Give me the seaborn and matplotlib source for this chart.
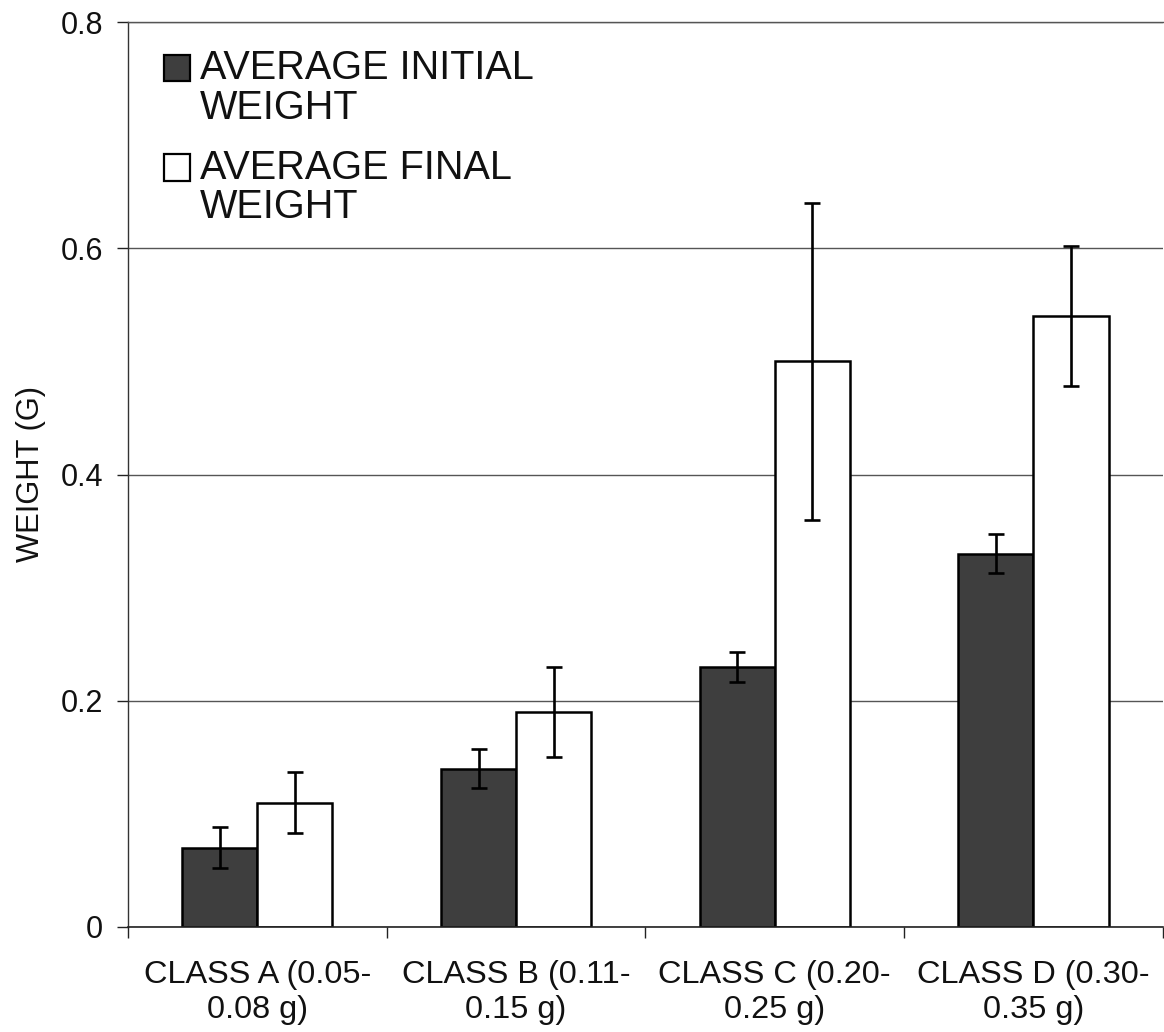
import numpy as np
import pandas as pd
import matplotlib
matplotlib.use("Agg")
import matplotlib.pyplot as plt
import seaborn as sns

# ---- data ----
categories = ["CLASS A (0.05-\n0.08 g)", "CLASS B (0.11-\n0.15 g)",
              "CLASS C (0.20-\n0.25 g)", "CLASS D (0.30-\n0.35 g)"]
series = ["AVERAGE INITIAL\nWEIGHT", "AVERAGE FINAL\nWEIGHT"]
initial_weight = [0.07, 0.14, 0.23, 0.33]
initial_err = [0.018, 0.017, 0.013, 0.017]
final_weight = [0.11, 0.19, 0.50, 0.54]
final_err = [0.027, 0.040, 0.140, 0.062]
y_ticks = [0, 0.2, 0.4, 0.6, 0.8]
y_tick_labels = ["0", "0.2", "0.4", "0.6", "0.8"]
y_label = "WEIGHT (G)"

df = pd.DataFrame({
    "cls": categories * 2,
    "series": [series[0]] * 4 + [series[1]] * 4,
    "w": initial_weight + final_weight,
})

sns.set_style("white")
plt.rcParams["font.family"] = ["Liberation Sans", "DejaVu Sans"]
plt.rcParams["text.color"] = "#111111"
plt.rcParams["axes.labelcolor"] = "#111111"
plt.rcParams["xtick.color"] = "#111111"
plt.rcParams["ytick.color"] = "#111111"

fig = plt.figure(figsize=(11.64, 10.32), dpi=100)
ax = fig.add_axes([128 / 1164, 105 / 1032, 1 - 128 / 1164 - 0.001, 905 / 1032])

sns.barplot(data=df, x="cls", y="w", hue="series", order=categories,
            hue_order=series, palette=["#3e3e3e", "#ffffff"],
            width=0.58, gap=0, edgecolor="black", linewidth=1.8,
            errorbar=None, saturation=1, ax=ax, zorder=2)

errs = [initial_err, final_err]
vals = [initial_weight, final_weight]
for cont, v, e in zip(ax.containers[:2], vals, errs):
    xs = [b.get_x() + b.get_width() / 2 for b in cont]
    ax.errorbar(xs, v, yerr=e, fmt="none", ecolor="black", elinewidth=1.9,
                capsize=6, capthick=1.9, zorder=3)

ax.set_ylim(0, 0.8)
ax.set_xlim(-0.5, 3.5)
ax.set_yticks(y_ticks)
ax.set_yticklabels(y_tick_labels, fontsize=22)
ax.tick_params(axis="y", length=8, width=1, pad=10, color="#222222",
               left=True)

# category ticks at boundaries, labels at centres
ax.set_xticks([-0.5, 0.5, 1.5, 2.5, 3.5])
ax.set_xticklabels([])
ax.set_xticks(range(len(categories)), minor=True)
ax.set_xticklabels(categories, minor=True, fontsize=23.4, linespacing=1.22)
ax.tick_params(axis="x", which="major", length=8, width=1, color="#222222",
               bottom=True)
ax.tick_params(axis="x", which="minor", length=0, pad=24)
ax.set_xlabel("")

ax.set_ylabel(y_label, fontsize=22.2)
ax.yaxis.set_label_coords(-0.079, 0.5)

ax.yaxis.grid(True, color="#555555", linewidth=1)
ax.set_axisbelow(True)
ax.spines["right"].set_visible(False)
ax.spines["top"].set_color("#555555")
ax.spines["top"].set_linewidth(1)
ax.spines["left"].set_color("#333333")
ax.spines["left"].set_linewidth(1)
ax.spines["bottom"].set_color("#222222")
ax.spines["bottom"].set_linewidth(1.2)

handles, labels = ax.get_legend_handles_labels()
if ax.get_legend() is not None:
    ax.get_legend().remove()
fs = 28.5
leg = ax.legend(handles, labels, loc="upper left",
                bbox_to_anchor=(0.035, 0.970), frameon=False, fontsize=fs,
                handlelength=0.66, handleheight=0.66, handletextpad=0.25,
                labelspacing=0.56, borderpad=0, borderaxespad=0)
for t in leg.get_texts():
    t.set_linespacing(1.05)
for p in leg.get_patches():
    p.set_y(p.get_y() + 0.53 * fs)
    p.set_linewidth(1.6)
    p.set_edgecolor("black")

fig.savefig("out.png", dpi=100)
